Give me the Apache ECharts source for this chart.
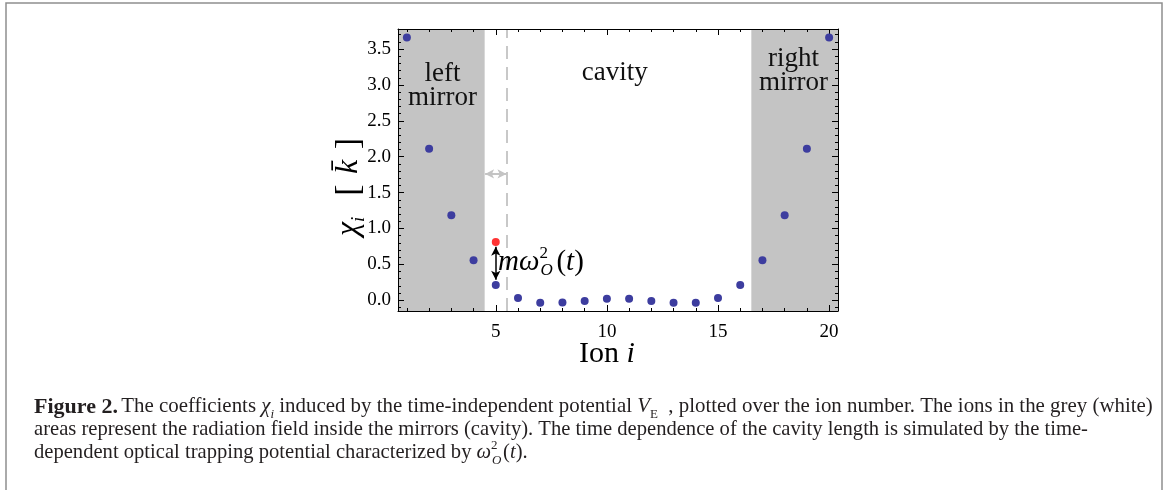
<!DOCTYPE html>
<html>
<head>
<meta charset="utf-8">
<script src="https://cdn.jsdelivr.net/npm/echarts@6/dist/echarts.min.js"></script>
<style>
html,body{margin:0;padding:0;background:#fff;}
#chart{width:1168px;height:490px;}
</style>
</head>
<body>
<div id="chart"></div>
<script>
// ---- data ----
const ions = [1, 2, 3, 4, 5, 6, 7, 8, 9, 10, 11, 12, 13, 14, 15, 16, 17, 18, 19, 20];
const chi = [3.66, 2.11, 1.185, 0.558, 0.214, 0.03, -0.035, -0.033, -0.01, 0.02, 0.02, -0.01, -0.035, -0.035, 0.03, 0.214, 0.558, 1.185, 2.11, 3.66];
const redIon = [5];
const redChi = [0.81];
const xMajorTicks = [5, 10, 15, 20];
const xMinorTicks = [1, 2, 3, 4, 6, 7, 8, 9, 11, 12, 13, 14, 16, 17, 18, 19];
const yMajorTicks = [0, 0.5, 1.0, 1.5, 2.0, 2.5, 3.0, 3.5];
const yMinorTicks = [-0.1, 0.1, 0.2, 0.3, 0.4, 0.6, 0.7, 0.8, 0.9, 1.1, 1.2, 1.3, 1.4, 1.6, 1.7, 1.8, 1.9,
  2.1, 2.2, 2.3, 2.4, 2.6, 2.7, 2.8, 2.9, 3.1, 3.2, 3.3, 3.4, 3.6, 3.7];
const mirrorLeft = [0.6, 4.5];
const mirrorRight = [16.5, 20.4];
const cavityEdge = 5.5;
const regionLabels = [
  {name: 'left\nmirror', coord: [2.6, 2.98]},
  {name: 'cavity', coord: [10.35, 3.17]},
  {name: 'right\nmirror', coord: [18.4, 3.2]}
];

const X_MIN = 0.6, X_MAX = 20.4, Y_MIN = -0.15, Y_MAX = 3.78;
const SERIF = '"Liberation Serif", "DejaVu Serif", serif';
const CAP = 20.6;
const CAPC = '#231f20';

function xAx(pos, ticks, major, labels) {
  return {
    type: 'value', position: pos, min: X_MIN, max: X_MAX, gridIndex: 0, z: 6,
    axisLine: {show: major, onZero: false, lineStyle: {color: '#000', width: 1}},
    axisTick: {show: true, inside: true, length: major ? 6 : 3, customValues: ticks, lineStyle: {color: '#000', width: 1}},
    axisLabel: labels ? {show: true, customValues: ticks, fontFamily: SERIF, fontSize: 19, color: '#000', margin: 12} : {show: false},
    splitLine: {show: false}
  };
}
function yAx(pos, ticks, major, labels) {
  return {
    type: 'value', position: pos, min: Y_MIN, max: Y_MAX, gridIndex: 0, z: 6,
    axisLine: {show: major, onZero: false, lineStyle: {color: '#000', width: 1}},
    axisTick: {show: true, inside: true, length: major ? 6 : 3, customValues: ticks, lineStyle: {color: '#000', width: 1}},
    axisLabel: labels ? {show: true, customValues: ticks, fontFamily: SERIF, fontSize: 19, color: '#000', margin: 7,
      formatter: v => v.toFixed(1)} : {show: false},
    splitLine: {show: false}
  };
}

const chart = echarts.init(document.getElementById('chart'), null, {renderer: 'canvas'});

const option = {
  animation: false,
  backgroundColor: '#fff',
  grid: {left: 398, right: 330, top: 29, bottom: 179, containLabel: false},
  xAxis: [
    xAx('bottom', xMajorTicks, true, true),
    xAx('bottom', xMinorTicks, false, false),
    xAx('top', xMajorTicks, true, false),
    xAx('top', xMinorTicks, false, false)
  ],
  yAxis: [
    yAx('left', yMajorTicks, true, true),
    yAx('left', yMinorTicks, false, false),
    yAx('right', yMajorTicks, true, false),
    yAx('right', yMinorTicks, false, false)
  ],
  series: [
    {
      type: 'scatter', name: 'regions', data: [], z: 1,
      markArea: {
        silent: true,
        itemStyle: {color: '#c4c4c4'},
        data: [
          [{xAxis: mirrorLeft[0], yAxis: Y_MIN}, {xAxis: mirrorLeft[1], yAxis: Y_MAX}],
          [{xAxis: mirrorRight[0], yAxis: Y_MIN}, {xAxis: mirrorRight[1], yAxis: Y_MAX}]
        ]
      },
      markLine: {
        silent: true, symbol: ['none', 'none'],
        lineStyle: {color: '#c8c8c8', width: 2, type: [13, 8]},
        label: {show: false},
        data: [[{coord: [cavityEdge, Y_MIN]}, {coord: [cavityEdge, Y_MAX]}]]
      },
      markPoint: {
        silent: true, symbol: 'circle', symbolSize: 0,
        label: {show: true, position: 'inside', formatter: '{b}', fontFamily: SERIF, fontSize: 27, lineHeight: 24, color: '#111'},
        data: regionLabels
      }
    },
    {
      type: 'scatter', name: 'chi', data: ions.map((x, i) => [x, chi[i]]),
      symbolSize: 8, itemStyle: {color: '#3d3d9f', opacity: 1}, z: 7
    },
    {
      type: 'scatter', name: 'chiShift', data: redIon.map((x, i) => [x, redChi[i]]),
      symbolSize: 8, itemStyle: {color: '#ff3333', opacity: 1}, z: 7,
      markLine: {
        silent: true, symbol: ['arrow', 'arrow'], symbolSize: [7, 9],
        label: {show: false},
        data: [
          [{coord: [5, 0.745], lineStyle: {color: '#000', width: 1.5, type: 'solid'}}, {coord: [5, 0.285]}],
          [{coord: [4.52, 1.76], lineStyle: {color: '#c4c4c4', width: 2, type: 'solid'}, itemStyle: {color: '#c4c4c4'}}, {coord: [5.48, 1.76]}]
        ]
      },
      markPoint: {
        silent: true, symbol: 'circle', symbolSize: 0,
        label: {
          show: true, position: 'right', distance: 0,
          formatter: '{i|mω}{sp|2}{sb|O}{n|(}{i|t}{n|)}',
          rich: {
            i: {fontFamily: SERIF, fontStyle: 'italic', fontSize: 29, color: '#000', verticalAlign: 'middle'},
            n: {fontFamily: SERIF, fontSize: 29, color: '#000', verticalAlign: 'middle'},
            sp: {fontFamily: SERIF, fontSize: 17, color: '#000', verticalAlign: 'top', lineHeight: 34, width: 1},
            sb: {fontFamily: SERIF, fontStyle: 'italic', fontSize: 17, color: '#000', verticalAlign: 'bottom', lineHeight: 34, width: 16}
          }
        },
        data: [{coord: [5.1, 0.53]}]
      }
    }
  ],
  graphic: [
    {type: 'rect', silent: true, shape: {x: 6, y: 3, width: 1156, height: 520},
      style: {fill: 'none', stroke: '#8e8e8e', lineWidth: 1.5}},
    {type: 'text', silent: true, x: 349, y: 187, rotation: Math.PI / 2,
      style: {
        text: '{i|χ}{sb|i}{g|    }{b|[}{g|  }{i|k̄}{g|  }{b|]}',
        align: 'center', verticalAlign: 'middle',
        rich: {
          i: {fontFamily: SERIF, fontStyle: 'italic', fontSize: 32, fill: '#000', verticalAlign: 'middle'},
          sb: {fontFamily: SERIF, fontStyle: 'italic', fontSize: 19, fill: '#000', verticalAlign: 'bottom', lineHeight: 38},
          g: {fontFamily: SERIF, fontSize: 21, fill: '#000', verticalAlign: 'middle'},
          b: {fontFamily: SERIF, fontSize: 34, fill: '#000', verticalAlign: 'middle'}
        }
      }},
    {type: 'text', silent: true, x: 607, y: 354,
      style: {
        text: '{n|Ion }{i|i}', align: 'center', verticalAlign: 'middle',
        rich: {
          n: {fontFamily: SERIF, fontSize: 30, fill: '#000'},
          i: {fontFamily: SERIF, fontStyle: 'italic', fontSize: 30, fill: '#000'}
        }
      }},
    {type: 'text', silent: true, x: 34, y: 407,
      style: {
        text: '{b|Figure 2.} {n|The coefficients }{i|χ}{sbi|i}{n| induced by the time-independent potential }{i|V}{sb|E}{n|  , plotted over the ion number. The ions in the grey (white)}',
        align: 'left', verticalAlign: 'middle',
        rich: {
          b: {fontFamily: SERIF, fontWeight: 'bold', fontSize: 22, fill: CAPC, verticalAlign: 'middle'},
          n: {fontFamily: SERIF, fontSize: 20.9, fill: CAPC, verticalAlign: 'middle'},
          i: {fontFamily: SERIF, fontStyle: 'italic', fontSize: 20.9, fill: CAPC, verticalAlign: 'middle'},
          sb: {fontFamily: SERIF, fontSize: 13, fill: CAPC, verticalAlign: 'bottom', lineHeight: 28},
          sbi: {fontFamily: SERIF, fontStyle: 'italic', fontSize: 13, fill: CAPC, verticalAlign: 'bottom', lineHeight: 28}
        }
      }},
    {type: 'text', silent: true, x: 34, y: 430,
      style: {
        text: 'areas represent the radiation field inside the mirrors (cavity). The time dependence of the cavity length is simulated by the time-',
        align: 'left', verticalAlign: 'middle',
        fontFamily: SERIF, fontSize: CAP, fill: CAPC
      }},
    {type: 'text', silent: true, x: 34, y: 453,
      style: {
        text: '{n|dependent optical trapping potential characterized by }{i|ω}{sp|2}{sbi|O}{n|(}{i|t}{n|).}',
        align: 'left', verticalAlign: 'middle',
        rich: {
          n: {fontFamily: SERIF, fontSize: CAP, fill: CAPC, verticalAlign: 'middle'},
          i: {fontFamily: SERIF, fontStyle: 'italic', fontSize: CAP, fill: CAPC, verticalAlign: 'middle'},
          sp: {fontFamily: SERIF, fontSize: 13, fill: CAPC, verticalAlign: 'top', lineHeight: 26, width: 1},
          sbi: {fontFamily: SERIF, fontStyle: 'italic', fontSize: 13, fill: CAPC, verticalAlign: 'bottom', lineHeight: 28, width: 11}
        }
      }}
  ]
};
chart.setOption(option);
</script>
</body>
</html>
